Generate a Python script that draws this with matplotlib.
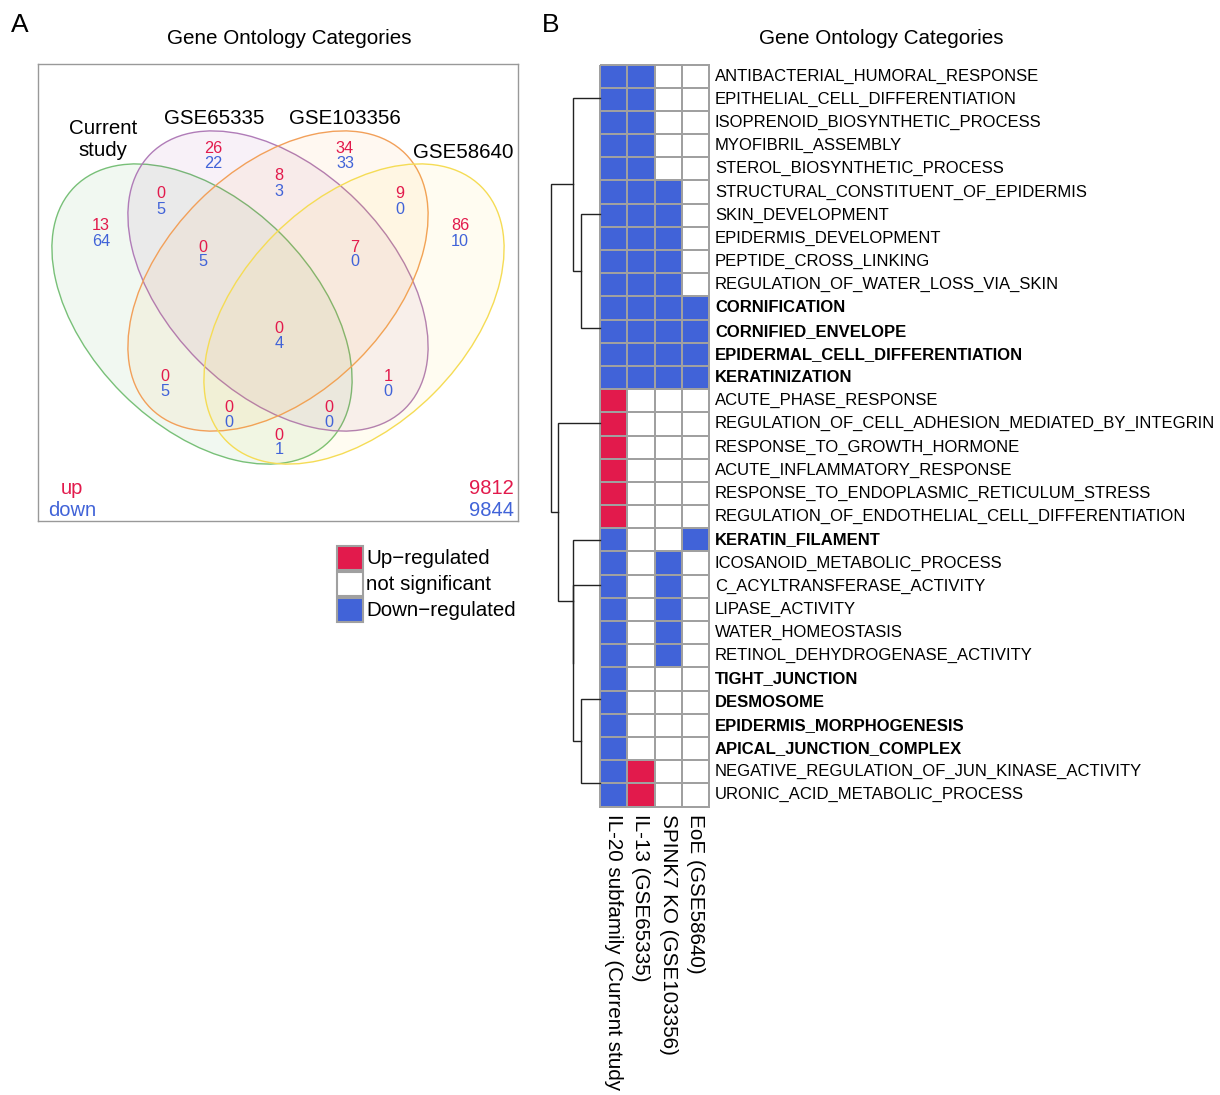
import matplotlib.pyplot as plt
import numpy as np
from matplotlib.colors import ListedColormap, to_rgba
from matplotlib.patches import Ellipse, Rectangle

plt.rcParams['font.family'] = ['Liberation Sans', 'DejaVu Sans']

W, H = 1220, 1095
RED = '#E21A4C'
BLUE = '#4163D8'
GRID = '#A0A0A0'

# ---- panel A: Venn counts ----
set_names = ['Current\nstudy', 'GSE65335', 'GSE103356', 'GSE58640']
regions = ['1', '2', '3', '4', '12', '23', '34', '123', '234', '1234',
           '13', '24', '134', '124', '14']
up_counts = [13, 26, 34, 86, 0, 8, 9, 0, 7, 0, 0, 1, 0, 0, 0]
down_counts = [64, 22, 33, 10, 5, 3, 0, 5, 0, 4, 5, 0, 0, 0, 1]
total_up = 9812
total_down = 9844

# ---- panel B: GO heatmap ----
go_terms = [
    'ANTIBACTERIAL_HUMORAL_RESPONSE', 'EPITHELIAL_CELL_DIFFERENTIATION',
    'ISOPRENOID_BIOSYNTHETIC_PROCESS', 'MYOFIBRIL_ASSEMBLY',
    'STEROL_BIOSYNTHETIC_PROCESS', 'STRUCTURAL_CONSTITUENT_OF_EPIDERMIS',
    'SKIN_DEVELOPMENT', 'EPIDERMIS_DEVELOPMENT', 'PEPTIDE_CROSS_LINKING',
    'REGULATION_OF_WATER_LOSS_VIA_SKIN', 'CORNIFICATION', 'CORNIFIED_ENVELOPE',
    'EPIDERMAL_CELL_DIFFERENTIATION', 'KERATINIZATION', 'ACUTE_PHASE_RESPONSE',
    'REGULATION_OF_CELL_ADHESION_MEDIATED_BY_INTEGRIN',
    'RESPONSE_TO_GROWTH_HORMONE', 'ACUTE_INFLAMMATORY_RESPONSE',
    'RESPONSE_TO_ENDOPLASMIC_RETICULUM_STRESS',
    'REGULATION_OF_ENDOTHELIAL_CELL_DIFFERENTIATION', 'KERATIN_FILAMENT',
    'ICOSANOID_METABOLIC_PROCESS', 'C_ACYLTRANSFERASE_ACTIVITY',
    'LIPASE_ACTIVITY', 'WATER_HOMEOSTASIS', 'RETINOL_DEHYDROGENASE_ACTIVITY',
    'TIGHT_JUNCTION', 'DESMOSOME', 'EPIDERMIS_MORPHOGENESIS',
    'APICAL_JUNCTION_COMPLEX', 'NEGATIVE_REGULATION_OF_JUN_KINASE_ACTIVITY',
    'URONIC_ACID_METABOLIC_PROCESS']
bold_terms = {'CORNIFICATION', 'CORNIFIED_ENVELOPE',
              'EPIDERMAL_CELL_DIFFERENTIATION', 'KERATINIZATION',
              'KERATIN_FILAMENT', 'TIGHT_JUNCTION', 'DESMOSOME',
              'EPIDERMIS_MORPHOGENESIS', 'APICAL_JUNCTION_COMPLEX'}
# first label is cut at the page edge in the original
studies = ['IL-20 subfamily (Current study', 'IL-13 (GSE65335)',
           'SPINK7 KO (GSE103356)', 'EoE (GSE58640)']
# 1 = up, 0 = not significant, -1 = down
status = [[-1, -1, 0, 0]] * 5 + [[-1, -1, -1, 0]] * 5 + [[-1, -1, -1, -1]] * 4 \
    + [[1, 0, 0, 0]] * 6 + [[-1, 0, 0, -1]] + [[-1, 0, -1, 0]] * 5 \
    + [[-1, 0, 0, 0]] * 4 + [[-1, 1, 0, 0]] * 2

# row dendrogram: lists are groups of identical rows, tuples are (left, right, height)
tree = (([0, 1, 2, 3, 4], ([5, 6, 7, 8, 9], [10, 11, 12, 13], 0.39), 0.55),
        ([14, 15, 16, 17, 18, 19],
         (20, ([21, 22, 23, 24, 25], ([26, 27, 28, 29], [30, 31], 0.39), 0.55), 0.55),
         0.86),
        1.0)


def px_rect(x0, y0, x1, y1):
    return [x0 / W, 1 - y1 / H, (x1 - x0) / W, (y1 - y0) / H]


def draw_tree(ax, node):
    if isinstance(node, int):
        return node + 0.5, 0.0
    if isinstance(node, list):
        y = node[-1] + 0.5
        for leaf in reversed(node[:-1]):
            y = (leaf + 0.5 + y) / 2
        return y, 0.0
    left, right, h = node
    yl, hl = draw_tree(ax, left)
    yr, hr = draw_tree(ax, right)
    ax.plot([hl, h, h, hr], [yl, yl, yr, yr], color='#222222', lw=1.0,
            clip_on=False, solid_joinstyle='miter')
    return (yl + yr) / 2, h


fig = plt.figure(figsize=(W / 100, H / 100), dpi=100)

# overlay for free text and legend
ov = fig.add_axes([0, 0, 1, 1])
ov.set_xlim(0, W)
ov.set_ylim(H, 0)
ov.axis('off')

ov.text(20, 25, 'A', fontsize=19, ha='center', va='center')
ov.text(551, 25, 'B', fontsize=19, ha='center', va='center')
ov.text(289, 39, 'Gene Ontology Categories', fontsize=14.9, ha='center', va='center')
ov.text(881, 39, 'Gene Ontology Categories', fontsize=14.9, ha='center', va='center')

legend_labels = ['Up\u2212regulated', 'not significant', 'Down\u2212regulated']
legend_colors = [RED, 'white', BLUE]
for i, (lab, col) in enumerate(zip(legend_labels, legend_colors)):
    ov.add_patch(Rectangle((337, 546 + 26 * i), 26, 24, facecolor=col,
                           edgecolor=GRID, lw=1.5))
    ov.text(366, 558 + 26 * i, lab, fontsize=14.8, ha='left', va='center')

# ---- Venn ----
va = fig.add_axes(px_rect(38, 64, 518, 521))
va.set_xlim(38, 518)
va.set_ylim(521, 64)
va.set_xticks([])
va.set_yticks([])
for sp in va.spines.values():
    sp.set_color('#999999')
    sp.set_linewidth(1.0)

ell_centers = [(202, 314), (278, 281), (278, 281), (354, 314)]
ell_angles = [45, 45, -45, -45]
ell_fill = ['green', 'purple', 'darkorange', 'gold']
ell_edge = ['#78C078', '#B07CB8', '#F2A05A', '#F5DC55']
for c, ang, fc, ec in zip(ell_centers, ell_angles, ell_fill, ell_edge):
    va.add_patch(Ellipse(c, 360, 225, angle=ang, facecolor=to_rgba(fc, 0.055),
                         edgecolor=ec, lw=1.0))

label_pos = {'1': (101, 233.5), '2': (213, 156), '3': (345, 156),
             '4': (460, 233.5), '12': (160.5, 201.5), '23': (279, 183.5),
             '34': (400, 201.5), '123': (203, 254.5), '234': (355, 254.5),
             '1234': (279, 336), '13': (165, 384), '24': (388, 384),
             '134': (229, 415), '124': (329, 415), '14': (279, 442.5)}
for reg, u, d in zip(regions, up_counts, down_counts):
    x, y = label_pos[reg]
    va.text(x, y - 7.5, str(u), color=RED, fontsize=11.7, ha='center', va='center')
    va.text(x, y + 7.5, str(d), color=BLUE, fontsize=11.7, ha='center', va='center')

set_pos = [(103, 139), (214, 118), (345, 118), (463, 152)]
for name, (x, y) in zip(set_names, set_pos):
    va.text(x, y, name, fontsize=14.8, ha='center', va='center', linespacing=1.2)

va.text(72, 488, 'up', color=RED, fontsize=14.5, ha='center', va='center')
va.text(72, 510, 'down', color=BLUE, fontsize=14.5, ha='center', va='center')
va.text(514, 488, str(total_up), color=RED, fontsize=14.5, ha='right', va='center')
va.text(514, 510, str(total_down), color=BLUE, fontsize=14.5, ha='right', va='center')

# ---- heatmap ----
hm = fig.add_axes(px_rect(600, 64.5, 709, 806.5))
mesh = hm.pcolormesh(np.array(status), cmap=ListedColormap([BLUE, 'white', RED]),
                     vmin=-1.5, vmax=1.5, edgecolors=GRID, linewidth=1.4)
mesh.set_clip_on(False)
hm.set_xlim(0, len(studies))
hm.set_ylim(len(go_terms), 0)
hm.axis('off')

for i, term in enumerate(go_terms):
    hm.text(4.22, i + 0.5, term, fontsize=12, ha='left', va='center',
            fontweight='bold' if term in bold_terms else 'normal')
for j, name in enumerate(studies):
    hm.text(j + 0.5, len(go_terms) + 0.33, name, fontsize=14.9, rotation=270,
            ha='center', va='top')

# ---- dendrogram ----
dn = fig.add_axes(px_rect(545, 64.5, 600, 806.5))
dn.set_ylim(len(go_terms), 0)
dn.set_xlim(1.122, 0)
dn.axis('off')
draw_tree(dn, tree)

fig.savefig('out.png', dpi=100)
